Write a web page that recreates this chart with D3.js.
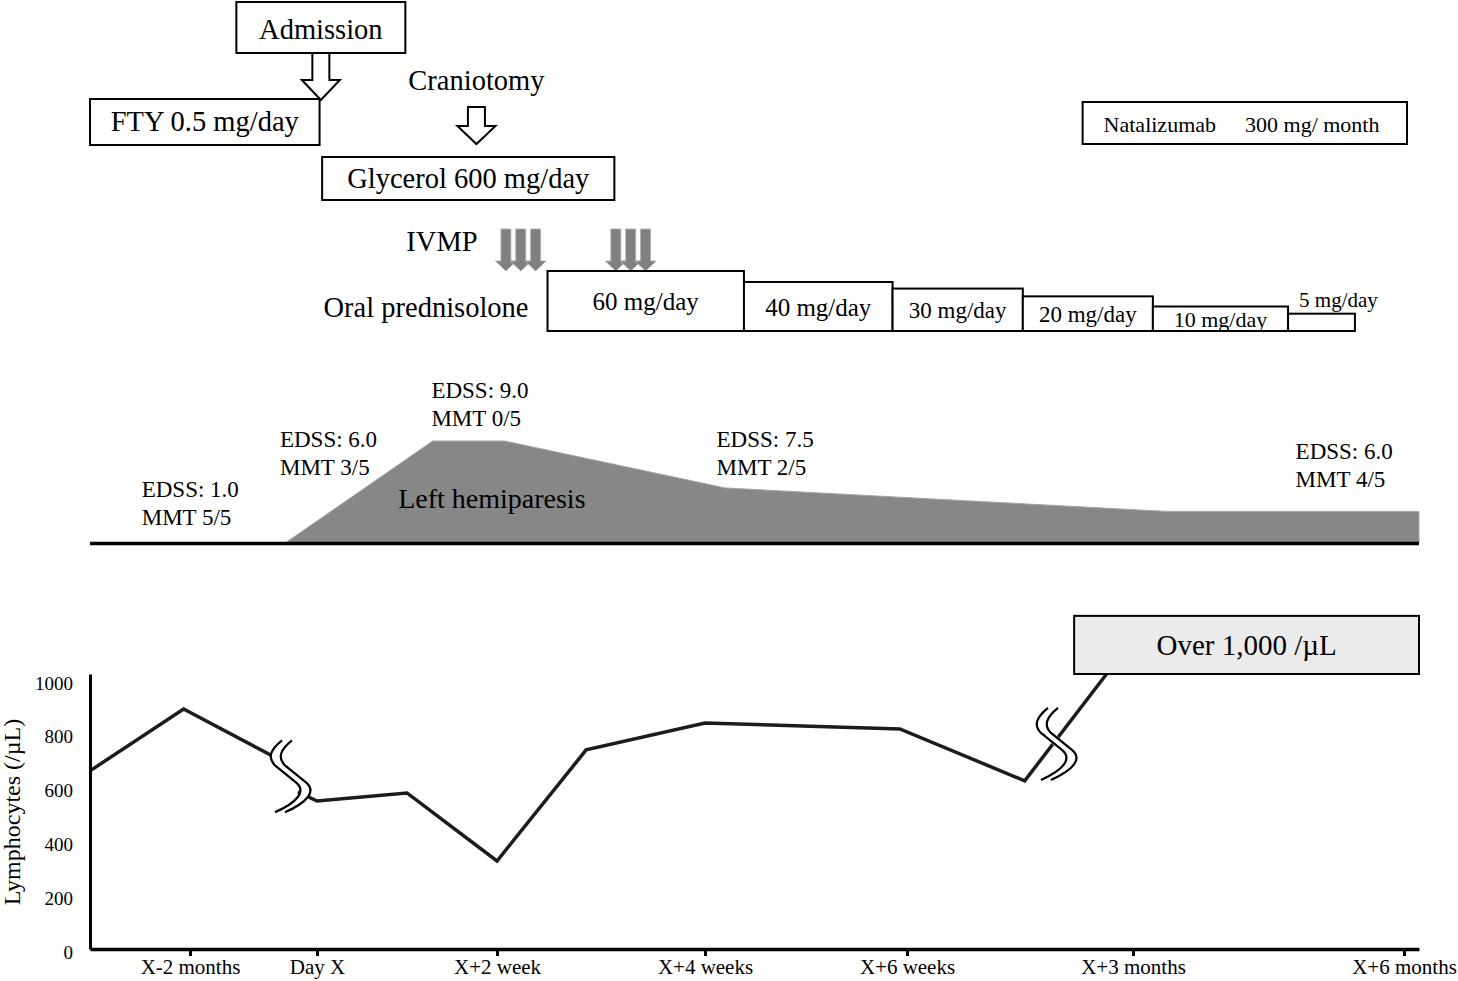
<!DOCTYPE html>
<html><head><meta charset="utf-8">
<script src="https://cdn.jsdelivr.net/npm/d3@7"></script>
<style>
body{margin:0;background:#fff}
text{font-family:"Liberation Serif","Times New Roman",serif;fill:#000}
</style>
</head><body>
<svg id="c" width="1458" height="981"></svg>
<script>
// ================= DATA =================
// timeline (days relative to Day X)
const tickDays   = [-60, 0, 14, 28, 42, 90, 180];
const tickLabels = ["X-2 months","Day X","X+2 week","X+4 weeks","X+6 weeks","X+3 months","X+6 months"];
const axisDays   = [-107, 185];            // ends of the drawn timeline

// lymphocyte counts (/µL), two pieces separated by the first axis break
const lymphDaysA   = [-107, -63, -21];
const lymphCountsA = [662, 892, 717];
const lymphDaysB   = [-9, 0, 7, 14, 20, 28, 41.5, 67, 90];
const lymphCountsB = [584, 550, 580, 327, 740, 840, 818, 625, 1150];
const breakDays    = [-14.2, 73];
const yTicks       = [0, 200, 400, 600, 800, 1000];

// left hemiparesis severity (schematic units)
const edssDays     = [-15, 9, 14.5, 29.4, 101, 185];
const edssSeverity = [0, 10, 10, 5.4, 3.1, 3.1];
const edssNoteDays = [-82.7, -17.5, 8.9, 28.8, 144];
const edssScores   = ["1.0", "6.0", "9.0", "7.5", "6.0"];
const mmtScores    = ["5/5", "3/5", "0/5", "2/5", "4/5"];

// oral prednisolone taper
const predDoses  = [60, 40, 30, 20, 10, 5];
const predBounds = [17.4, 30.7, 41.0, 66.6, 96.6, 141.5, 163.7];

// IVMP pulses (days)
const ivmpDays = [14.6, 15.6, 16.6, 22, 23, 24];

// treatments / events
const ftyDays        = [-107, 0.2];
const glycerolDays   = [0.4, 21.9];
const natalizumabDays= [79.3, 181];
const admissionDay   = 0.3;
const craniotomyDay  = 12.4;
const overBoxDays    = [77.5, 185];
const overBoxCounts  = [1022, 1238];

// ================= LAYOUT =================
const xStops = [90, 190, 317, 497, 705, 907, 1133, 1404, 1419];
const FONT_MAIN = 28.5;

const svg = d3.select("#c");
const x = d3.scaleLinear().domain([axisDays[0], ...tickDays, axisDays[1]]).range(xStops);
const y = d3.scaleLinear().domain([0, 1022]).range([949, 674]);
const sev = d3.scaleLinear().domain([0, 10]).range([543, 441]);
const doseH = d3.scaleSqrt().domain([0, 60]).range([0, 60]);

function box(x0, x1, y0, y1, fill) {
  svg.append("rect").attr("x", x0).attr("y", y0).attr("width", x1 - x0).attr("height", y1 - y0)
    .attr("fill", fill || "#fff").attr("stroke", "#000").attr("stroke-width", 2);
}
function label(t, cx, by, size, anchor) {
  return svg.append("text").attr("x", cx).attr("y", by).attr("font-size", size)
    .attr("text-anchor", anchor || "middle").text(t);
}
function hollowArrow(cx, y0, y1, headH) {
  const sw = 8.5, hw = 19;
  svg.append("path")
    .attr("d", `M${cx-sw},${y0}L${cx+sw},${y0}L${cx+sw},${y1-headH}L${cx+hw},${y1-headH}L${cx},${y1}L${cx-hw},${y1-headH}L${cx-sw},${y1-headH}Z`)
    .attr("fill", "#fff").attr("stroke", "#000").attr("stroke-width", 2).attr("stroke-linejoin", "miter");
}

// ---- top: events and treatments ----
const admX = x(admissionDay);
box(admX - 84.5, admX + 84.5, 2, 53);
label("Admission", admX, 38.5, FONT_MAIN);
hollowArrow(admX, 53, 100, 20);

box(x(ftyDays[0]), x(ftyDays[1]), 99, 145);
label("FTY 0.5 mg/day", (x(ftyDays[0]) + x(ftyDays[1])) / 2, 131, FONT_MAIN);

const crX = x(craniotomyDay);
label("Craniotomy", crX, 90, FONT_MAIN);
hollowArrow(crX, 107, 144, 18);

box(x(glycerolDays[0]), x(glycerolDays[1]), 157, 200);
label("Glycerol 600 mg/day", (x(glycerolDays[0]) + x(glycerolDays[1])) / 2, 188, FONT_MAIN);

box(x(natalizumabDays[0]), x(natalizumabDays[1]), 102, 144);
const nt = svg.append("text").attr("x", x(natalizumabDays[0]) + 21).attr("y", 132).attr("font-size", 22);
nt.append("tspan").text("Natalizumab");
nt.append("tspan").attr("dx", 29).text("300 mg/ month");

// ---- IVMP arrows ----
label("IVMP", 442, 251, FONT_MAIN);
const ivTop = 229, ivHead = 261, ivTip = 271;
svg.append("g").selectAll("path").data(ivmpDays).join("path")
  .attr("d", d => { const c = x(d);
    return `M${c-5},${ivTop}L${c+5},${ivTop}L${c+5},${ivHead}L${c+10.5},${ivHead}L${c},${ivTip}L${c-10.5},${ivHead}L${c-5},${ivHead}Z`; })
  .attr("fill", "#808080").attr("stroke", "#b0b0b0").attr("stroke-width", 0.9);

// ---- oral prednisolone ----
label("Oral prednisolone", 426, 317, FONT_MAIN);
const predBase = 331;
const predFont = [25, 25, 23, 23, 22, 21];
predDoses.forEach((d, i) => {
  const x0 = x(predBounds[i]), x1 = x(predBounds[i + 1]);
  const top = predBase - doseH(d);
  box(x0, x1, top, predBase);
});
predDoses.forEach((d, i) => {
  const x0 = x(predBounds[i]), x1 = x(predBounds[i + 1]);
  const top = predBase - doseH(d);
  const mid = (top + predBase) / 2;
  if (i < predDoses.length - 1) {
    label(d + " mg/day", (x0 + x1) / 2, mid + 0.36 * predFont[i], predFont[i]);
  } else {
    label(d + " mg/day", (x0 + x1) / 2 + 17, top - 7, predFont[i]);
  }
});

// ---- hemiparesis panel ----
const edss = edssDays.map((d, i) => ({ d, s: edssSeverity[i] }));
svg.append("path").datum(edss)
  .attr("d", d3.area().x(p => x(p.d)).y0(sev(0)).y1(p => sev(p.s)))
  .attr("fill", "#878787").attr("stroke", "#a3a3a3").attr("stroke-width", 1);
svg.append("line").attr("x1", x(axisDays[0])).attr("x2", x(axisDays[1]))
  .attr("y1", sev(0) + 0.5).attr("y2", sev(0) + 0.5).attr("stroke", "#000").attr("stroke-width", 3.5);
label("Left hemiparesis", x(13.6), 508, 28);
const noteY = [497, 447, 398, 447, 459];
edssNoteDays.forEach((d, i) => {
  label("EDSS: " + edssScores[i], x(d), noteY[i], 23, "start");
  label("MMT " + mmtScores[i], x(d), noteY[i] + 27.5, 23, "start");
});

// ---- lymphocyte chart ----
const segA = lymphDaysA.map((d, i) => ({ d, v: lymphCountsA[i] }));
const segB = lymphDaysB.map((d, i) => ({ d, v: lymphCountsB[i] }));
const line = d3.line().x(p => x(p.d)).y(p => y(p.v));
[segA, segB].forEach(seg => svg.append("path").datum(seg).attr("d", line)
  .attr("fill", "none").attr("stroke", "#1c1c1c").attr("stroke-width", 3.5));

// axis breaks
const allPts = segA.concat(segB);
const sPath = "M-5,-36C-16,-27,-20,-19,-12,-11L9,6C20,15,10,26,-12,36";
breakDays.forEach(bd => {
  let k = 0; while (k < allPts.length - 1 && allPts[k + 1].d < bd) k++;
  const a = allPts[k], b = allPts[k + 1];
  const px = x(bd);
  const t = (px - x(a.d)) / (x(b.d) - x(a.d));
  const py = y(a.v) + t * (y(b.v) - y(a.v));
  const g = svg.append("g").attr("transform", `translate(${px},${py})`);
  g.append("path").attr("d", sPath).attr("transform", "translate(5,0)")
    .attr("fill", "none").attr("stroke", "#fff").attr("stroke-width", 9);
  g.append("path").attr("d", sPath).attr("fill", "none").attr("stroke", "#000").attr("stroke-width", 2.2);
  g.append("path").attr("d", sPath).attr("transform", "translate(10,0)")
    .attr("fill", "none").attr("stroke", "#000").attr("stroke-width", 2.2);
});

// "Over 1,000" box
const ox0 = x(overBoxDays[0]), ox1 = x(overBoxDays[1]);
const oy0 = y(overBoxCounts[1]), oy1 = y(overBoxCounts[0]);
box(ox0, ox1, oy0, oy1, "#ebebeb");
label("Over 1,000 /µL", (ox0 + ox1) / 2, (oy0 + oy1) / 2 + 10.5, 29);

// axes
const xAxis = svg.append("g").attr("transform", `translate(0,${y(0)})`)
  .call(d3.axisBottom(x).tickValues(tickDays).tickFormat((d, i) => tickLabels[i])
    .tickSize(7).tickSizeOuter(0).tickPadding(3));
xAxis.select(".domain").attr("stroke", "#000").attr("stroke-width", 3.5);
xAxis.selectAll(".tick line").attr("stroke", "#000").attr("stroke-width", 3);
xAxis.selectAll(".tick text").attr("font-size", 21).attr("fill", "#000");
xAxis.attr("font-family", null).attr("font-size", null);

const yAxis = svg.append("g").attr("transform", `translate(${x(axisDays[0])},0)`)
  .call(d3.axisLeft(y).tickValues(yTicks).tickFormat(d3.format("d"))
    .tickSize(0).tickSizeOuter(0).tickPadding(17));
yAxis.select(".domain").attr("stroke", "#000").attr("stroke-width", 3);
yAxis.selectAll(".tick text").attr("font-size", 19).attr("transform", "translate(0,3)").attr("fill", "#000");
yAxis.attr("font-family", null).attr("font-size", null);

svg.append("text").attr("transform", "translate(20,812) rotate(-90)")
  .attr("text-anchor", "middle").attr("font-size", 24).text("Lymphocytes (/µL)");
</script>
</body></html>
